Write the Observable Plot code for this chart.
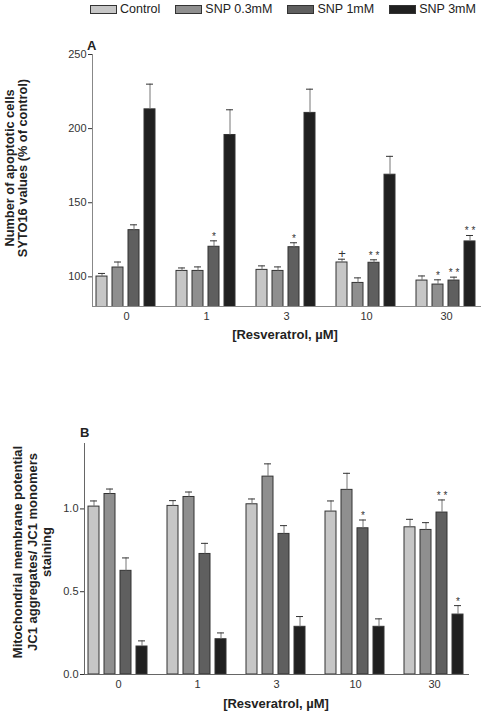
<!DOCTYPE html>
<html>
<head>
<meta charset="utf-8">
<script src="https://cdn.jsdelivr.net/npm/d3@7"></script>
<script src="https://cdn.jsdelivr.net/npm/@observablehq/plot@0.6"></script>
<style>
  html, body { margin: 0; padding: 0; background: #fff; }
  #page { position: relative; width: 483px; height: 713px; overflow: hidden; font-family: "Liberation Sans", Arial, sans-serif; color: #222; }
  .abs { position: absolute; }
  #legend { position: absolute; left: 90px; top: 1px; display: flex; gap: 15px; font-size: 12.5px; white-space: nowrap; }
  #legend .item { display: flex; align-items: center; gap: 3px; height: 16px; }
  #legend .sw { width: 25px; height: 7px; border: 1px solid #333; box-sizing: content-box; }
  .ylab { position: absolute; transform: translate(-50%, -50%) rotate(-90deg); text-align: center; white-space: pre; font-weight: bold; }
  .xlab { position: absolute; transform: translate(-50%, -50%); font-weight: bold; font-size: 13px; white-space: nowrap; }
  .panel { position: absolute; font-weight: bold; font-size: 13px; }
</style>
</head>
<body>
<div id="page">
  <div id="legend"></div>
  <div class="panel" style="left:87px; top:38px;">A</div>
  <div class="ylab" style="left:16px; top:168px; font-size:12.8px; line-height:12.5px;">Number of apoptotic cells
SYTO16 values (% of control)</div>
  <div id="plotA" class="abs" style="left:0; top:40px;"></div>
  <div class="xlab" style="left:285px; top:334px;">[Resveratrol, µM]</div>

  <div class="panel" style="left:80px; top:425px;">B</div>
  <div class="ylab" style="left:33px; top:552px; font-size:13px; line-height:14.5px;">Mitochondrial membrane potential
JC1 aggregates/ JC1 monomers
staining</div>
  <div id="plotB" class="abs" style="left:0; top:430px;"></div>
  <div class="xlab" style="left:276px; top:703px;">[Resveratrol, µM]</div>
</div>
<script>
// ---- data ----
const doses = ["0", "1", "3", "10", "30"];
const series = ["Control", "SNP 0.3mM", "SNP 1mM", "SNP 3mM"];
const fills = ["#c6c6c6", "#8f8f8f", "#5f5f5f", "#202020"];

// Panel A: apoptotic cells (% of control)
const apoControl = [100.2, 104.0, 104.7, 109.7, 97.5];
const apoSnp03   = [106.3, 104.0, 104.0, 95.9, 94.8];
const apoSnp1    = [131.5, 120.3, 120.0, 109.5, 97.5];
const apoSnp3    = [213.0, 195.7, 210.6, 168.9, 123.9];
const apoErrControl = [2.1, 2.0, 2.7, 2.2, 3.1];
const apoErrSnp03   = [3.7, 2.7, 2.7, 3.4, 3.2];
const apoErrSnp1    = [3.6, 4.0, 3.0, 2.0, 2.3];
const apoErrSnp3    = [17.0, 17.0, 16.0, 12.4, 4.0];
const apoSigControl = ["", "", "", "+", ""];
const apoSigSnp03   = ["", "", "", "", "*"];
const apoSigSnp1    = ["", "*", "*", "* *", "* *"];
const apoSigSnp3    = ["", "", "", "", "* *"];

// Panel B: JC1 aggregates / monomers
const jcControl = [1.014, 1.018, 1.028, 0.984, 0.889];
const jcSnp03   = [1.090, 1.072, 1.195, 1.115, 0.873];
const jcSnp1    = [0.626, 0.728, 0.849, 0.883, 0.978];
const jcSnp3    = [0.169, 0.213, 0.288, 0.288, 0.362];
const jcErrControl = [0.034, 0.032, 0.032, 0.064, 0.048];
const jcErrSnp03   = [0.030, 0.030, 0.077, 0.100, 0.044];
const jcErrSnp1    = [0.078, 0.064, 0.050, 0.050, 0.076];
const jcErrSnp3    = [0.034, 0.038, 0.062, 0.048, 0.054];
const jcSigControl = ["", "", "", "", ""];
const jcSigSnp03   = ["", "", "", "", ""];
const jcSigSnp1    = ["", "", "", "*", "* *"];
const jcSigSnp3    = ["", "", "", "", "*"];

const apoTicks = [100, 150, 200, 250];
const jcTicks = [0, 0.5, 1.0];

function buildRows(means, errs, sigs) {
  const rows = [];
  series.forEach((s, si) => doses.forEach((d, di) => rows.push({
    dose: d, series: s, mean: means[si][di], err: errs[si][di], sig: sigs[si][di]
  })));
  return rows;
}

const rowsA = buildRows([apoControl, apoSnp03, apoSnp1, apoSnp3],
  [apoErrControl, apoErrSnp03, apoErrSnp1, apoErrSnp3],
  [apoSigControl, apoSigSnp03, apoSigSnp1, apoSigSnp3]);
const rowsB = buildRows([jcControl, jcSnp03, jcSnp1, jcSnp3],
  [jcErrControl, jcErrSnp03, jcErrSnp1, jcErrSnp3],
  [jcSigControl, jcSigSnp03, jcSigSnp1, jcSigSnp3]);

// ---- legend ----
const legend = document.getElementById("legend");
series.forEach((s, i) => {
  const it = document.createElement("div");
  it.className = "item";
  const sw = document.createElement("div");
  sw.className = "sw";
  sw.style.background = fills[i];
  const t = document.createElement("span");
  t.textContent = s;
  it.appendChild(sw); it.appendChild(t);
  legend.appendChild(it);
});

function panel({rows, height, marginTop, marginBottom, marginLeft, marginRight, fxPadding, yDomain, yTicks, yFormat, axisColor}) {
  const sigRows = rows.filter(d => d.sig);
  return Plot.plot({
    width: 483, height, marginTop, marginBottom, marginLeft, marginRight,
    style: {fontFamily: "Liberation Sans, Arial, sans-serif", fontSize: "11px", color: "#333", background: "transparent"},
    fx: {domain: doses, paddingInner: fxPadding, paddingOuter: 0, label: null, axis: "bottom", tickSize: 0, tickPadding: 6},
    x: {domain: series, paddingInner: 0.31, paddingOuter: 0.28, axis: null},
    y: {domain: yDomain, ticks: yTicks, tickFormat: yFormat, tickSize: 4, tickPadding: 2, label: null},
    color: {domain: series, range: fills},
    marks: [
      Plot.barY(rows, {fx: "dose", x: "series", y: "mean", fill: "series", stroke: "#333", strokeWidth: 1, clip: true}),
      Plot.ruleX(rows, {fx: "dose", x: "series", y1: "mean", y2: d => d.mean + d.err, stroke: "#777", strokeWidth: 1}),
      Plot.tickY(rows, {fx: "dose", x: "series", y: d => d.mean + d.err, insetLeft: 2, insetRight: 2, stroke: "#333", strokeWidth: 1}),
      Plot.text(sigRows, {fx: "dose", x: "series", y: d => d.mean + d.err, text: "sig", lineAnchor: "bottom", dy: -1,
        fontSize: d => d.sig === "+" ? 13 : 10, fill: "#333"}),
      Plot.frame({facet: "super", anchor: "bottom", stroke: axisColor, strokeWidth: 1}),
      Plot.frame({facet: "super", anchor: "left", stroke: axisColor, strokeWidth: 1})
    ]
  });
}

document.getElementById("plotA").appendChild(panel({
  rows: rowsA, height: 290, marginTop: 14, marginBottom: 24, marginLeft: 91, marginRight: 3, fxPadding: 0.153,
  yDomain: [80, 250], yTicks: apoTicks, yFormat: d3.format("d"), axisColor: "#888"
}));
document.getElementById("plotB").appendChild(panel({
  rows: rowsB, height: 264, marginTop: 13, marginBottom: 20, marginLeft: 83, marginRight: 15, fxPadding: 0.142,
  yDomain: [0, 1.395], yTicks: jcTicks, yFormat: d3.format(".1f"), axisColor: "#666"
}));
</script>
</body>
</html>
